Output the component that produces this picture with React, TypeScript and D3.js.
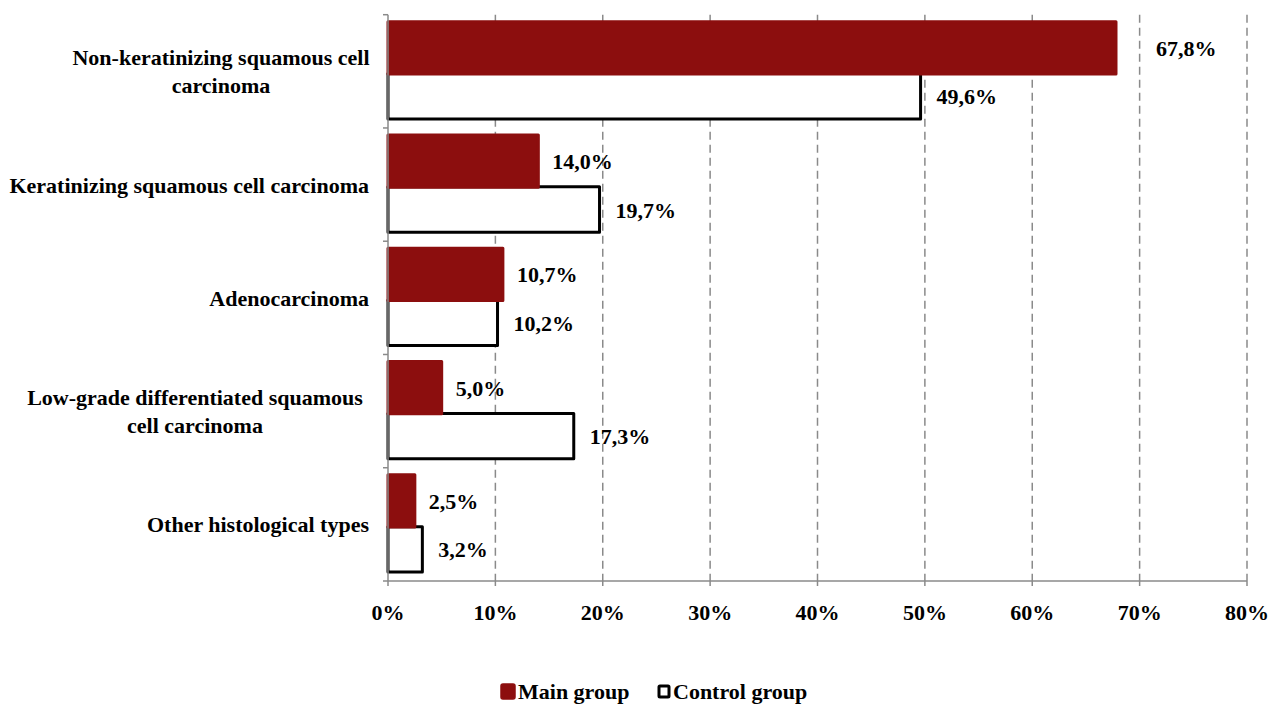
import React from "react";
import * as d3 from "d3";

const categories = [
  ["Non-keratinizing squamous cell", "carcinoma"],
  ["Keratinizing squamous cell carcinoma"],
  ["Adenocarcinoma"],
  ["Low-grade differentiated squamous", "cell carcinoma"],
  ["Other histological types"],
];
const mainValues = [67.8, 14.0, 10.7, 5.0, 2.5];
const controlValues = [49.6, 19.7, 10.2, 17.3, 3.2];
const xTicks = [0, 10, 20, 30, 40, 50, 60, 70, 80];
const seriesNames = ["Main group", "Control group"];

const W = 1269;
const H = 704;
const left = 388;
const right = 1247;
const top = 14.7;
const bottom = 581;
const MAIN = "#8c0e0e";
const FONT = "'Liberation Serif', 'Times New Roman', serif";
const FS = 22;

const fmt = (v: number) => v.toFixed(1).replace(".", ",") + "%";

export default function App() {
  const x = d3.scaleLinear().domain([0, 80]).range([left, right]);
  const y = d3
    .scaleBand<number>()
    .domain(categories.map((_, i) => i))
    .range([top, bottom])
    .paddingInner(0)
    .paddingOuter(0);
  const bw = y.bandwidth();

  return (
    <svg
      width={W}
      height={H}
      style={{ position: "absolute", left: 0, top: 0, background: "#fff" }}
      fontFamily={FONT}
      fontWeight="bold"
    >
      {/* gridlines */}
      {xTicks.slice(1).map((t) => (
        <line
          key={"g" + t}
          x1={x(t)}
          x2={x(t)}
          y1={top}
          y2={bottom}
          stroke="#8a8a8a"
          strokeWidth={1.5}
          strokeDasharray="8,5"
        />
      ))}
      {/* control bars */}
      {controlValues.map((v, i) => {
        const b = y(i)!;
        return (
          <rect
            key={"c" + i}
            x={x(0)}
            y={b + 0.52 * bw}
            width={x(v) - x(0)}
            height={0.4 * bw}
            fill="#fff"
            stroke="#000"
            strokeWidth={3}
            strokeLinejoin="round"
          />
        );
      })}
      {/* main bars */}
      {mainValues.map((v, i) => {
        const b = y(i)!;
        return (
          <rect
            key={"m" + i}
            x={x(0)}
            y={b + 0.062 * bw}
            width={x(v) - x(0)}
            height={0.462 * bw}
            fill={MAIN}
            stroke={MAIN}
            strokeWidth={3}
            strokeLinejoin="round"
          />
        );
      })}
      {/* axes */}
      <line x1={left} x2={left} y1={top} y2={bottom} stroke="#8a8a8a" strokeWidth={1.5} />
      <line x1={left - 5} x2={right} y1={bottom} y2={bottom} stroke="#8a8a8a" strokeWidth={1.5} />
      {categories.map((_, i) => (
        <line
          key={"yt" + i}
          x1={left - 5}
          x2={left}
          y1={y(i)!}
          y2={y(i)!}
          stroke="#8a8a8a"
          strokeWidth={1.5}
        />
      ))}
      {xTicks.map((t) => (
        <g key={"xt" + t}>
          <line x1={x(t)} x2={x(t)} y1={bottom} y2={bottom + 5} stroke="#8a8a8a" strokeWidth={1.5} />
          <text x={x(t)} y={bottom + 39} textAnchor="middle" fontSize={FS} fill="#000">
            {t + "%"}
          </text>
        </g>
      ))}
      {/* category labels */}
      {categories.map((lines, i) => {
        const cy = y(i)! + bw / 2;
        const lh = 28;
        const n = lines.length;
        if (n === 1) {
          return (
            <text key={"cl" + i} x={369} y={cy + 8} textAnchor="end" fontSize={FS} fill="#000">
              {lines[0]}
            </text>
          );
        }
        return (
          <text key={"cl" + i} textAnchor="middle" fontSize={FS} fill="#000">
            {lines.map((l, j) => (
              <tspan key={j} x={i === 3 ? 195 : 221} y={cy + 8 + (j - (n - 1) / 2) * lh}>
                {l}
              </tspan>
            ))}
          </text>
        );
      })}
      {/* value labels */}
      {mainValues.map((v, i) => {
        const b = y(i)!;
        const lx = i === 0 ? x(v) + 40 : x(v) + 14;
        return (
          <text key={"mv" + i} x={lx} y={b + 0.293 * bw + 8} fontSize={FS} fill="#000">
            {fmt(v)}
          </text>
        );
      })}
      {controlValues.map((v, i) => {
        const b = y(i)!;
        return (
          <text key={"cv" + i} x={x(v) + 16} y={b + 0.72 * bw + 8} fontSize={FS} fill="#000">
            {fmt(v)}
          </text>
        );
      })}
      {/* legend */}
      <g>
        <rect x={501} y={684} width={14} height={15} rx={2} fill={MAIN} stroke={MAIN} strokeWidth={1.5} />
        <text x={518} y={699} fontSize={FS} fill="#000">
          {seriesNames[0]}
        </text>
        <rect x={659} y={686} width={10} height={11} fill="#fff" stroke="#000" strokeWidth={3} rx={1} />
        <text x={673} y={699} fontSize={FS} fill="#000">
          {seriesNames[1]}
        </text>
      </g>
    </svg>
  );
}
